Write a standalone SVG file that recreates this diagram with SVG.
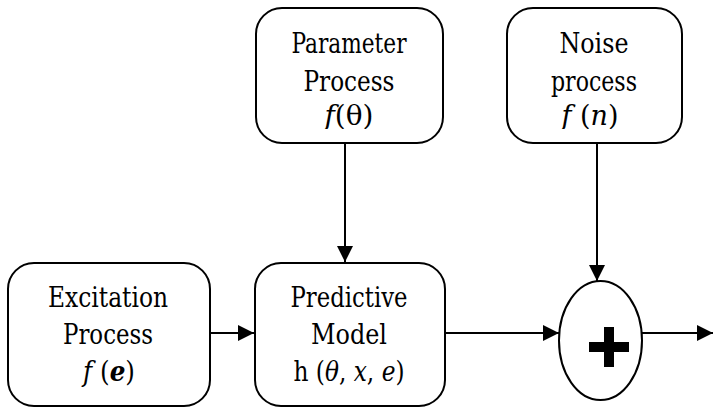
<svg xmlns="http://www.w3.org/2000/svg" width="713" height="408" viewBox="0 0 713 408">
<style>
.box{fill:#fff;stroke:#000;stroke-width:2}
.t{font-family:"DejaVu Serif Condensed","DejaVu Serif",serif;font-stretch:condensed;font-size:27px;fill:#000;text-anchor:middle}
.i{font-style:italic}
.b{font-weight:bold}
.c{stroke:#000;stroke-width:2;fill:none}
</style>
<defs>
<marker id="ah" viewBox="0 0 10 10" refX="10" refY="5" markerWidth="16" markerHeight="16" markerUnits="userSpaceOnUse" orient="auto">
<path d="M0,0 L10,5 L0,10 z" fill="#000"/>
</marker>
<clipPath id="cp1"><rect x="250" y="0" width="200" height="129"/></clipPath>
<clipPath id="cp2"><rect x="500" y="0" width="190" height="129"/></clipPath>
</defs>
<g id="connectors">
<line class="c" x1="345" y1="143" x2="345" y2="262" marker-end="url(#ah)"/>
<line class="c" x1="597" y1="143" x2="597" y2="281" marker-end="url(#ah)"/>
<line class="c" x1="210" y1="333" x2="254" y2="333" marker-end="url(#ah)"/>
<line class="c" x1="445" y1="333" x2="559" y2="333" marker-end="url(#ah)"/>
<line class="c" x1="642" y1="333" x2="713" y2="333" marker-end="url(#ah)"/>
</g>
<g id="parameter">
<rect class="box" x="256" y="8" width="187" height="135" rx="26"/>
<text class="t" x="349" y="53" textLength="115" lengthAdjust="spacingAndGlyphs">Parameter</text>
<text class="t" x="349" y="91" textLength="91" lengthAdjust="spacingAndGlyphs">Process</text>
<text class="t" x="349" y="125" clip-path="url(#cp1)" textLength="49" lengthAdjust="spacingAndGlyphs"><tspan class="i">f</tspan>(θ)</text>
</g>
<g id="noise">
<rect class="box" x="507" y="8" width="175" height="135" rx="26"/>
<text class="t" x="594" y="53" textLength="69" lengthAdjust="spacingAndGlyphs">Noise</text>
<text class="t" x="594" y="91" textLength="86" lengthAdjust="spacingAndGlyphs">process</text>
<text class="t" x="590" y="125" clip-path="url(#cp2)" textLength="57" lengthAdjust="spacingAndGlyphs"><tspan class="i">f</tspan> (<tspan class="i">n</tspan>)</text>
</g>
<g id="excitation">
<rect class="box" x="8" y="263" width="202" height="143" rx="26"/>
<text class="t" x="108" y="307" textLength="120" lengthAdjust="spacingAndGlyphs">Excitation</text>
<text class="t" x="108" y="344" textLength="90" lengthAdjust="spacingAndGlyphs">Process</text>
<text class="t" x="109" y="381" textLength="52" lengthAdjust="spacingAndGlyphs"><tspan class="i">f</tspan> (<tspan class="i b">e</tspan>)</text>
</g>
<g id="predictive">
<rect class="box" x="255" y="263" width="190" height="143" rx="26"/>
<text class="t" x="349" y="307" textLength="117" lengthAdjust="spacingAndGlyphs">Predictive</text>
<text class="t" x="349" y="344" textLength="76" lengthAdjust="spacingAndGlyphs">Model</text>
<text class="t" x="349" y="381" textLength="111" lengthAdjust="spacingAndGlyphs">h (<tspan class="i">θ</tspan>, <tspan class="i">x</tspan>, <tspan class="i">e</tspan>)</text>
</g>
<g id="sum">
<ellipse class="box" cx="600.5" cy="340.5" rx="41.5" ry="59.5"/>
<rect x="589" y="342" width="40" height="10" fill="#000"/>
<rect x="604" y="327" width="10" height="40" fill="#000"/>
</g>
</svg>
